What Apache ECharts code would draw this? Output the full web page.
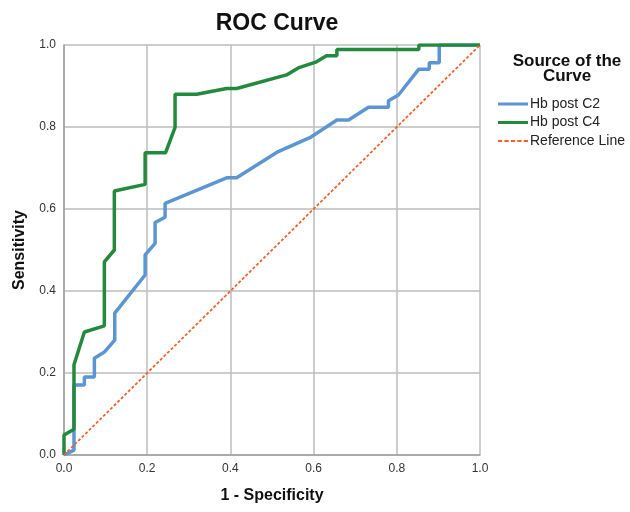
<!DOCTYPE html>
<html>
<head>
<meta charset="utf-8">
<script src="https://cdn.jsdelivr.net/npm/echarts@6/dist/echarts.min.js"></script>
<style>html,body{margin:0;padding:0;background:#fff}#chart{width:630px;height:512px}</style>
</head>
<body>
<div id="chart"></div>
<script>
// Hb post C2 (1 - specificity, sensitivity)
const c2X = [0, 0.024, 0.024, 0.049, 0.049, 0.073, 0.073, 0.098, 0.122, 0.122, 0.195, 0.195, 0.219, 0.219, 0.243, 0.243, 0.391, 0.415, 0.515, 0.591, 0.656, 0.684, 0.732, 0.780, 0.780, 0.804, 0.853, 0.878, 0.878, 0.902, 0.902, 1];
const c2Y = [0, 0.012, 0.171, 0.171, 0.190, 0.190, 0.236, 0.252, 0.280, 0.346, 0.439, 0.488, 0.516, 0.567, 0.580, 0.614, 0.676, 0.676, 0.740, 0.774, 0.817, 0.817, 0.848, 0.848, 0.864, 0.878, 0.941, 0.941, 0.957, 0.957, 1, 1];
// Hb post C4
const c4X = [0, 0, 0.024, 0.024, 0.049, 0.097, 0.097, 0.121, 0.121, 0.195, 0.195, 0.244, 0.267, 0.267, 0.319, 0.391, 0.415, 0.535, 0.563, 0.607, 0.631, 0.656, 0.656, 0.853, 0.853, 1];
const c4Y = [0, 0.049, 0.063, 0.220, 0.300, 0.315, 0.471, 0.500, 0.644, 0.660, 0.737, 0.737, 0.799, 0.880, 0.880, 0.894, 0.894, 0.927, 0.944, 0.959, 0.974, 0.974, 0.989, 0.989, 1, 1];
// Reference line
const refX = [0, 1];
const refY = [0, 1];
const seriesNames = ['Hb post C2', 'Hb post C4', 'Reference Line'];
const tickValues = [0, 0.2, 0.4, 0.6, 0.8, 1.0];

const zip = (xs, ys) => xs.map((x, i) => [x, ys[i]]);
const FONT = 'Arial, "Liberation Sans", sans-serif';
const DASH_ICON = 'path://M0,0h4v2h-4z M6,0h4v2h-4z M12,0h4v2h-4z M18,0h4v2h-4z M24,0h4v2h-4z';

const chart = echarts.init(document.getElementById('chart'), null, {renderer: 'canvas'});
const axisCommon = {
  type: 'value', min: tickValues[0], max: tickValues[tickValues.length - 1], interval: 0.2,
  axisLine: {show: true, lineStyle: {color: '#9e9e9e', width: 1.5}},
  axisTick: {show: false},
  axisLabel: {color: '#333', fontSize: 12, fontFamily: FONT, formatter: v => v.toFixed(1)},
  splitLine: {show: true, lineStyle: {color: '#bcbcbc', width: 1.5}},
  nameLocation: 'middle',
  nameTextStyle: {color: '#111', fontSize: 16, fontWeight: 'bold', fontFamily: FONT}
};
chart.setOption({
  animation: false,
  backgroundColor: '#fff',
  title: [
    {text: 'ROC Curve', left: 272, top: 7, textAlign: 'center',
     textStyle: {fontSize: 23, fontWeight: 'bold', color: '#111', fontFamily: FONT}},
    {text: 'Source of the\nCurve', left: 562, top: 49, textAlign: 'center',
     textStyle: {fontSize: 17, fontWeight: 'bold', color: '#111', fontFamily: FONT, lineHeight: 15}}
  ],
  grid: {left: 64, right: 150, top: 45, bottom: 57, containLabel: false},
  legend: {
    orient: 'vertical', left: 493, top: 92, itemWidth: 30, itemHeight: 3, itemGap: 4.5,
    data: [
      {name: seriesNames[0], icon: 'rect'},
      {name: seriesNames[1], icon: 'rect'},
      {name: seriesNames[2], icon: DASH_ICON}
    ],
    textStyle: {fontSize: 14, color: '#222', fontFamily: FONT, padding: [0, 0, 0, -3]}
  },
  xAxis: Object.assign({}, axisCommon, {name: '1 - Specificity', nameGap: 33}),
  yAxis: Object.assign({}, axisCommon, {name: 'Sensitivity', nameGap: 36}),
  series: [
    {name: seriesNames[0], type: 'line', data: zip(c2X, c2Y), symbol: 'none',
     lineStyle: {color: '#5b96d2', width: 3.5}, itemStyle: {color: '#5b96d2'}, z: 3},
    {name: seriesNames[1], type: 'line', data: zip(c4X, c4Y), symbol: 'none',
     lineStyle: {color: '#23893c', width: 3.5}, itemStyle: {color: '#23893c'}, z: 4},
    {name: seriesNames[2], type: 'line', data: zip(refX, refY), symbol: 'none',
     lineStyle: {color: '#f0622a', width: 1.8, type: [3, 2]}, itemStyle: {color: '#f0622a'}, z: 5}
  ]
});
</script>
</body>
</html>
